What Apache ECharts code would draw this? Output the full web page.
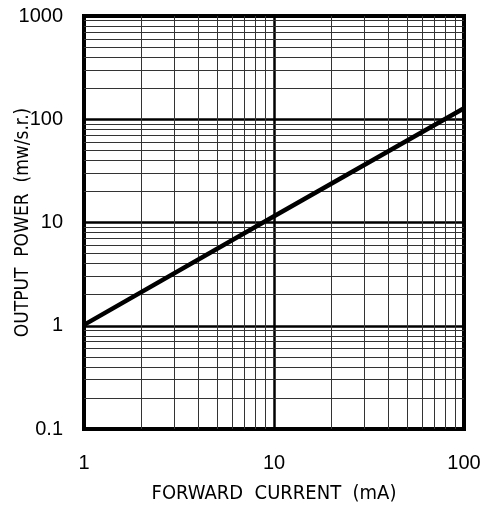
<!DOCTYPE html>
<html>
<head>
<meta charset="utf-8">
<script src="https://cdn.jsdelivr.net/npm/echarts@6/dist/echarts.min.js"></script>
<style>
  html, body { margin: 0; padding: 0; background: #fff; }
  #chart { width: 490px; height: 511px; }
</style>
</head>
<body>
<div id="chart"></div>
<script>
// forward current (mA) vs output power (mw/s.r.)
const current = [1, 10, 100];
const power = [1.02, 11.5, 128];

// log grid minor lines
const xMinor = [2, 3, 4, 5, 6, 7, 8, 9, 20, 30, 40, 50, 60, 70, 80, 90];
const yMinor = [0.2, 0.3, 0.4, 0.5, 0.6, 0.7, 0.8, 0.9,
  2, 3, 4, 5, 6, 7, 8, 9,
  20, 30, 40, 50, 60, 70, 80, 90,
  200, 300, 400, 500, 600, 700, 800, 900];

const chart = echarts.init(document.getElementById('chart'));

const labelFont = 'Liberation Sans';
const titleFont = "'DejaVu Sans Condensed', 'Liberation Sans Narrow', sans-serif";

const minorLines = xMinor.map(v => ({ xAxis: v }))
  .concat(yMinor.map(v => ({ yAxis: v })));

chart.setOption({
  animation: false,
  grid: {
    left: 84, right: 26, top: 16, bottom: 82,
    containLabel: false,
    outerBoundsMode: 'none',
    show: true, borderColor: '#000', borderWidth: 4
  },
  xAxis: {
    type: 'log',
    logBase: 10,
    min: 1,
    max: 100,
    name: 'FORWARD  CURRENT  (mA)',
    nameLocation: 'middle',
    nameGap: 55,
    nameMoveOverlap: false,
    nameTextStyle: { fontFamily: titleFont, fontSize: 20, color: '#000' },
    axisLine: { lineStyle: { color: '#000', width: 4 } },
    axisTick: { show: false },
    axisLabel: { margin: 24, fontFamily: labelFont, fontSize: 20, color: '#000', formatter: v => String(v) },
    splitLine: { show: true, lineStyle: { color: '#000', width: 2.5 } }
  },
  yAxis: {
    type: 'log',
    logBase: 10,
    min: 0.1,
    max: 1000,
    name: 'OUTPUT  POWER  (mw/s.r.)',
    nameLocation: 'middle',
    nameGap: 51,
    nameMoveOverlap: false,
    nameTextStyle: { fontFamily: titleFont, fontSize: 19, color: '#000' },
    axisLine: { lineStyle: { color: '#000', width: 4 } },
    axisTick: { show: false },
    axisLabel: { margin: 21, fontFamily: labelFont, fontSize: 20, color: '#000', formatter: v => String(v) },
    splitLine: { show: true, lineStyle: { color: '#000', width: 2.5 } }
  },
  series: [
    {
      type: 'line',
      data: current.map((x, i) => [x, power[i]]),
      showSymbol: false,
      lineStyle: { color: '#000', width: 4.5 },
      z: 5,
      markLine: {
        silent: true,
        symbol: 'none',
        label: { show: false },
        lineStyle: { color: '#333', width: 1, type: 'solid' },
        data: minorLines
      }
    }
  ]
});
</script>
</body>
</html>
